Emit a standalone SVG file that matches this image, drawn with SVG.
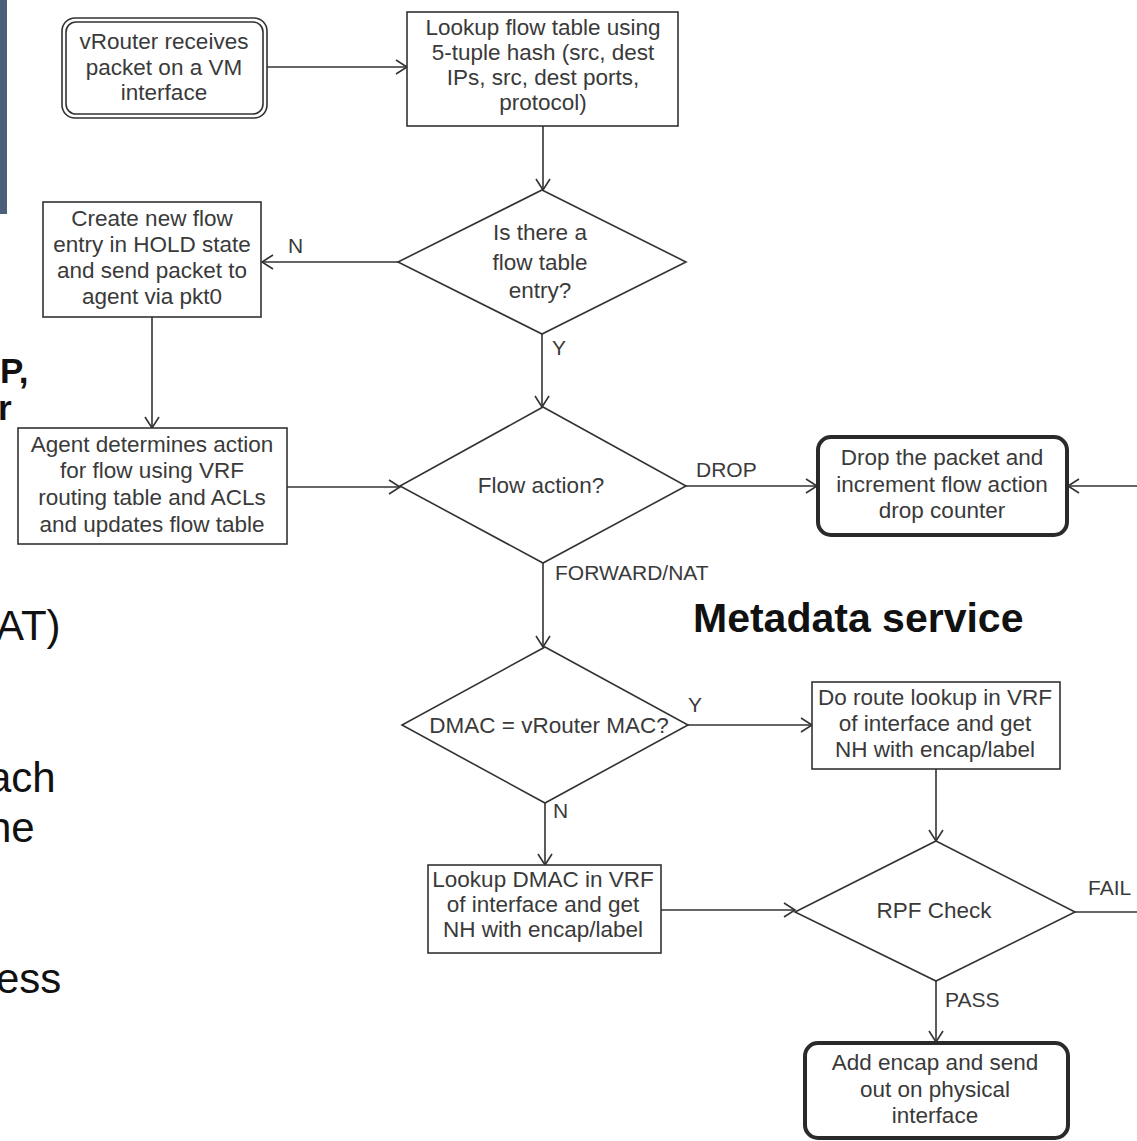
<svg xmlns="http://www.w3.org/2000/svg" width="1137" height="1141" viewBox="0 0 1137 1141">
  <style>
    .box { fill: #ffffff; stroke: #333333; stroke-width: 1.6; }
    .term { fill: #ffffff; stroke: #2a2a2a; stroke-width: 4; }
    .dia { fill: #ffffff; stroke: #333333; stroke-width: 1.6; }
    .lbl { font-family: "Liberation Sans", Arial, sans-serif; font-size: 22.5px; fill: #3a3a3a; text-anchor: middle; }
    .edge { font-family: "Liberation Sans", Arial, sans-serif; font-size: 21px; fill: #3a3a3a; }
    .wire { fill: none; stroke: #333333; stroke-width: 1.6; }
    .slide { font-family: "Liberation Sans", Arial, sans-serif; fill: #111111; }
  </style>
  <defs>
    <marker id="open-arrow" markerUnits="userSpaceOnUse" markerWidth="14" markerHeight="16" refX="12" refY="8" orient="auto">
      <path d="M1,1 L12,8 L1,15" fill="none" stroke="#333333" stroke-width="1.6"/>
    </marker>
  </defs>

  <rect width="1137" height="1141" fill="#ffffff"/>

  <!-- background slide fragments -->
  <g id="slide-fragments">
    <rect x="0" y="0" width="7" height="214" fill="#4b5f78"/>
    <text class="slide" x="0" y="383" font-size="35" font-weight="bold">P,</text>
    <text class="slide" x="-2" y="420" font-size="35" font-weight="bold">r</text>
    <text class="slide" x="-4" y="640" font-size="42">AT)</text>
    <text class="slide" x="-12" y="792" font-size="42">ach</text>
    <text class="slide" x="-12" y="842" font-size="42">ne</text>
    <text class="slide" x="-4" y="993" font-size="42">ess</text>
    <text class="slide" x="693" y="632" font-size="41" font-weight="bold">Metadata service</text>
  </g>

  <!-- connectors -->
  <g id="connectors">
    <path class="wire" d="M267,67 H407" marker-end="url(#open-arrow)"/>
    <path class="wire" d="M543,126 V190" marker-end="url(#open-arrow)"/>
    <path class="wire" d="M398,262 H262" marker-end="url(#open-arrow)"/>
    <path class="wire" d="M542,334 V407" marker-end="url(#open-arrow)"/>
    <path class="wire" d="M152,317 V428" marker-end="url(#open-arrow)"/>
    <path class="wire" d="M287,487 H400" marker-end="url(#open-arrow)"/>
    <path class="wire" d="M686,486 H817" marker-end="url(#open-arrow)"/>
    <path class="wire" d="M1137,486 H1068" marker-end="url(#open-arrow)"/>
    <path class="wire" d="M543,563 V647" marker-end="url(#open-arrow)"/>
    <path class="wire" d="M688,725 H812" marker-end="url(#open-arrow)"/>
    <path class="wire" d="M545,803 V865" marker-end="url(#open-arrow)"/>
    <path class="wire" d="M936,769 V841" marker-end="url(#open-arrow)"/>
    <path class="wire" d="M661,910 H795" marker-end="url(#open-arrow)"/>
    <path class="wire" d="M1075,912 H1137"/>
    <path class="wire" d="M936,981 V1042" marker-end="url(#open-arrow)"/>

    <text class="edge" x="552" y="355">Y</text>
    <text class="edge" x="288" y="253">N</text>
    <text class="edge" x="696" y="477">DROP</text>
    <text class="edge" x="555" y="580">FORWARD/NAT</text>
    <text class="edge" x="688" y="712">Y</text>
    <text class="edge" x="553" y="818">N</text>
    <text class="edge" x="1088" y="895">FAIL</text>
    <text class="edge" x="945" y="1007">PASS</text>
  </g>

  <g id="receive">
    <rect x="62" y="18" width="205" height="100" rx="13" fill="#ffffff" stroke="#333333" stroke-width="1.6"/>
    <rect x="66" y="22" width="197" height="92" rx="10" fill="none" stroke="#333333" stroke-width="1.6"/>
    <text class="lbl" x="164" y="49">vRouter receives</text>
    <text class="lbl" x="164" y="75">packet on a VM</text>
    <text class="lbl" x="164" y="100">interface</text>
  </g>

  <g id="lookup-flow">
    <rect class="box" x="407" y="12" width="271" height="114"/>
    <text class="lbl" x="543" y="35">Lookup flow table using</text>
    <text class="lbl" x="543" y="60">5-tuple hash (src, dest</text>
    <text class="lbl" x="543" y="85">IPs, src, dest ports,</text>
    <text class="lbl" x="543" y="110">protocol)</text>
  </g>

  <g id="flow-entry-check">
    <polygon class="dia" points="542,190 686,262 542,334 398,262"/>
    <text class="lbl" x="540" y="240">Is there a</text>
    <text class="lbl" x="540" y="270">flow table</text>
    <text class="lbl" x="540" y="298">entry?</text>
  </g>

  <g id="create-flow">
    <rect class="box" x="43" y="202" width="218" height="115"/>
    <text class="lbl" x="152" y="226">Create new flow</text>
    <text class="lbl" x="152" y="252">entry in HOLD state</text>
    <text class="lbl" x="152" y="278">and send packet to</text>
    <text class="lbl" x="152" y="304">agent via pkt0</text>
  </g>

  <g id="agent-action">
    <rect class="box" x="18" y="428" width="269" height="116"/>
    <text class="lbl" x="152" y="452">Agent determines action</text>
    <text class="lbl" x="152" y="478">for flow using VRF</text>
    <text class="lbl" x="152" y="505">routing table and ACLs</text>
    <text class="lbl" x="152" y="532">and updates flow table</text>
  </g>

  <g id="flow-action">
    <polygon class="dia" points="543,407 686,486 543,563 400,486"/>
    <text class="lbl" x="541" y="493">Flow action?</text>
  </g>

  <g id="drop">
    <rect class="term" x="818" y="437" width="249" height="98" rx="13"/>
    <text class="lbl" x="942" y="465">Drop the packet and</text>
    <text class="lbl" x="942" y="492">increment flow action</text>
    <text class="lbl" x="942" y="518">drop counter</text>
  </g>

  <g id="dmac-check">
    <polygon class="dia" points="545,647 688,725 545,803 402,725"/>
    <text class="lbl" x="549" y="733">DMAC = vRouter MAC?</text>
  </g>

  <g id="route-lookup">
    <rect class="box" x="812" y="682" width="248" height="87"/>
    <text class="lbl" x="935" y="705">Do route lookup in VRF</text>
    <text class="lbl" x="935" y="731">of interface and get</text>
    <text class="lbl" x="935" y="757">NH with encap/label</text>
  </g>

  <g id="dmac-lookup">
    <rect class="box" x="428" y="865" width="233" height="88"/>
    <text class="lbl" x="543" y="887">Lookup DMAC in VRF</text>
    <text class="lbl" x="543" y="912">of interface and get</text>
    <text class="lbl" x="543" y="937">NH with encap/label</text>
  </g>

  <g id="rpf-check">
    <polygon class="dia" points="936,841 1075,912 936,981 795,912"/>
    <text class="lbl" x="934" y="918">RPF Check</text>
  </g>

  <g id="send-out">
    <rect class="term" x="805" y="1043" width="263" height="95" rx="13"/>
    <text class="lbl" x="935" y="1070">Add encap and send</text>
    <text class="lbl" x="935" y="1097">out on physical</text>
    <text class="lbl" x="935" y="1123">interface</text>
  </g>
</svg>
